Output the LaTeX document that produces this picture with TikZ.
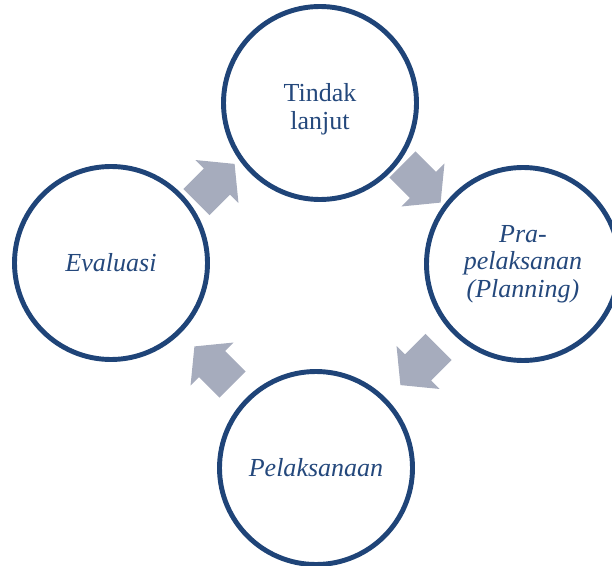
\documentclass[tikz,border=0pt]{standalone}
\usepackage{fontspec}
\setmainfont{Liberation Serif}
\usetikzlibrary{calc}

\definecolor{circleblue}{RGB}{31,68,120}
\definecolor{textblue}{RGB}{36,72,124}
\definecolor{arrowgray}{RGB}{166,172,189}

\tikzset{
    stage/.style={circle, draw=circleblue, line width=2.8pt, fill=white,
        minimum size=3.86cm, inner sep=0pt, align=center, text=textblue,
        font=\fontsize{14.8}{15.6}\selectfont},
    cyclearrow/.pic={
        \fill[arrowgray] (-0.54,-0.37) -- (0.04,-0.37) -- (0.04,-0.61) -- (0.54,0)
            -- (0.04,0.61) -- (0.04,0.37) -- (-0.54,0.37) -- cycle;
    }
}

\begin{document}
\begin{tikzpicture}

    \useasboundingbox (0,0) rectangle (12.24,-11.32);
    \clip (0,0) rectangle (12.24,-11.32);

    % Stages of the cycle
    \node[stage] (tindak) at (6.40,-2.06)
        {\raisebox{0pt}[\dimexpr\height+8pt\relax]{\begin{tabular}{@{}c@{}}Tindak\\lanjut\end{tabular}}};
    \node[stage] (pra) at (10.46,-5.28) {\itshape Pra-\\\itshape pelaksanan\\\itshape (Planning)};
    \node[stage] (pelaksanaan) at (6.32,-9.36) {\itshape Pelaksanaan};
    \node[stage] (evaluasi) at (2.22,-5.26) {\itshape Evaluasi};

    % Block arrows, clockwise
    \pic[rotate=-45] at ($(tindak)!0.5!(pra)$) {cyclearrow};
    \pic[rotate=-135] at ($(pra)!0.5!(pelaksanaan)$) {cyclearrow};
    \pic[rotate=135] at ($(pelaksanaan)!0.5!(evaluasi)$) {cyclearrow};
    \pic[rotate=45] at ($(evaluasi)!0.5!(tindak)$) {cyclearrow};

\end{tikzpicture}
\end{document}
